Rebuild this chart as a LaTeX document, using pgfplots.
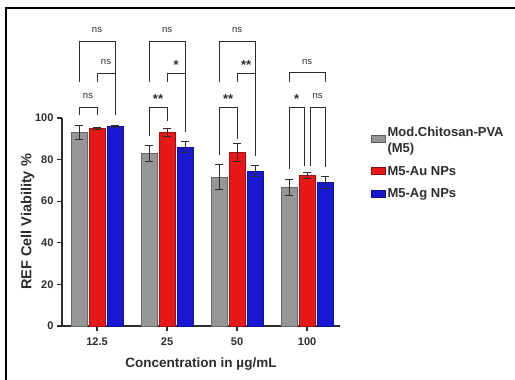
\documentclass[border=0pt]{standalone}
\usepackage{pgfplots}
\usepackage{pgfplotstable}
\pgfplotsset{compat=1.18}
\usepackage{fontspec}
\setmainfont{Liberation Sans}
\definecolor{cgrey}{RGB}{150,150,150}
\definecolor{cred}{RGB}{232,24,24}
\definecolor{cblue}{RGB}{24,24,210}
\definecolor{axc}{RGB}{45,45,45}

\pgfplotstableread{
x y e
0 93.0 3.2
1 83.0 4.0
2 71.5 6.0
3 66.5 4.0
}\tgrey
\pgfplotstableread{
x y e
0 95.0 0.5
1 93.0 2.0
2 83.5 4.3
3 72.5 1.5
}\tred
\pgfplotstableread{
x y e
0 96.0 0.4
1 86.0 2.5
2 74.5 2.5
3 69.0 2.8
}\tblue

\tikzset{brk/.style={line width=0.9pt, color=axc}}
\newcommand{\brk}[5]{\draw[brk] (axis cs:#1,#4) |- (axis cs:#2,#3) -- (axis cs:#2,#5);}
\newcommand{\ns}[2]{\node[anchor=base, yshift=-2.4pt, font=\fontsize{9.5}{10}\selectfont, text=axc, inner sep=0pt] at (axis cs:#1,#2) {ns};}
\newcommand{\st}[3]{\node[anchor=base, yshift=-7.5pt, font=\bfseries\fontsize{13}{14}\selectfont, text=axc, inner sep=0pt] at (axis cs:#1,#2) {#3};}

\pgfplotsset{
  myerr/.style={error bars/.cd, y dir=both, y explicit,
    error bar style={line width=1pt, color=axc},
    error mark options={rotate=90, mark size=4pt, line width=1pt, color=axc}},
}

\begin{document}
\begin{tikzpicture}[x=1pt,y=1pt]
\useasboundingbox (0,0) rectangle (515,380);
\fill[white] (0,0) rectangle (515,380);
\draw[line width=1.6pt, black] (6,0) -- (6,372) -- (515,372);
\begin{axis}[
  at={(62pt,54pt)}, anchor=south west,
  scale only axis, width=278pt, height=208pt,
  xmin=-0.5, xmax=3.47, ymin=0, ymax=100,
  clip=false,
  axis lines=left,
  axis line style={-, line width=1.4pt, color=axc},
  ybar=2pt, bar width=16pt,
  xtick={0,1,2,3}, xticklabels={12.5,25,50,100},
  ytick={0,20,40,60,80,100},
  tick align=outside, major tick length=5pt,
  tick style={line width=1.2pt, color=axc},
  /pgf/number format/assume math mode=true,
  tick label style={font=\bfseries\fontsize{11}{12}\selectfont, text=axc},
  xticklabel style={yshift=-3pt},
  ylabel={REF Cell Viability \%},
  xlabel={Concentration in µg/mL},
  label style={font=\bfseries\fontsize{13.5}{15}\selectfont, text=axc},
  ylabel style={at={(axis description cs:-0.124,0.5)}, anchor=center, font=\bfseries\fontsize{14.5}{16}\selectfont},
  xlabel style={at={(axis description cs:0.5,-0.183)}, anchor=center},
  legend style={at={(axis description cs:1.11,0.975)}, anchor=north west,
    draw=none, fill=none, font=\bfseries\fontsize{13}{16}\selectfont,
    text=axc, row sep=8pt, inner xsep=0pt, inner ysep=0pt},
  legend cell align=left,
]
\addplot[fill=cgrey, draw=cgrey!70!black, line width=0.6pt,
  legend image code/.code={\draw[fill=cgrey, draw=cgrey!60!black, line width=0.8pt] (0pt,-6.5pt) rectangle (14pt,0.5pt);},
  myerr]
  table[x=x, y=y, y error=e] {\tgrey};
\addlegendentry{\begin{tabular}{@{}l@{}}Mod.Chitosan-PVA\\(M5)\end{tabular}}
\addplot[fill=cred, draw=cred!70!black, line width=0.6pt,
  legend image code/.code={\draw[fill=cred, draw=cred!60!black, line width=0.8pt] (0pt,-7.5pt) rectangle (14pt,-0.5pt);},
  myerr]
  table[x=x, y=y, y error=e] {\tred};
\addlegendentry{\rule{0pt}{17.4pt}M5-Au NPs}
\addplot[fill=cblue, draw=cblue!70!black, line width=0.6pt,
  legend image code/.code={\draw[fill=cblue, draw=cblue!60!black, line width=0.8pt] (0pt,-3.5pt) rectangle (14pt,3.5pt);},
  myerr]
  table[x=x, y=y, y error=e] {\tblue};
\addlegendentry{M5-Ag NPs}

% group 12.5
\brk{-0.257}{0.257}{137}{117.5}{101.4}
\brk{0}{0.257}{121.5}{117.5}{101.4}
\brk{-0.257}{0}{105.2}{101.4}{101.4}
\ns{0}{142.3}
\ns{0.1285}{127}
\ns{-0.1285}{110.4}
% group 25
\brk{0.743}{1.257}{137}{117.5}{93.3}
\brk{1}{1.257}{121.5}{117.5}{93.3}
\brk{0.743}{1}{105.2}{91.5}{98.5}
\ns{1}{142.3}
\st{1.1285}{127}{*}
\st{0.8715}{110.6}{**}
% group 50
\brk{1.743}{2.257}{137}{117.5}{81.5}
\brk{2}{2.257}{121.5}{117.5}{81.5}
\brk{1.743}{2}{105.2}{82}{90}
\ns{2}{142.3}
\st{2.1285}{127}{**}
\st{1.8715}{110.6}{**}
% group 100
\brk{2.743}{3.257}{122}{117.5}{117.5}
\brk{2.743}{2.957}{105.2}{75.5}{77}
\brk{3.043}{3.257}{105.2}{77}{76.3}
\ns{3}{126.8}
\st{2.85}{110.6}{*}
\ns{3.15}{110.6}
\end{axis}
\end{tikzpicture}
\end{document}
